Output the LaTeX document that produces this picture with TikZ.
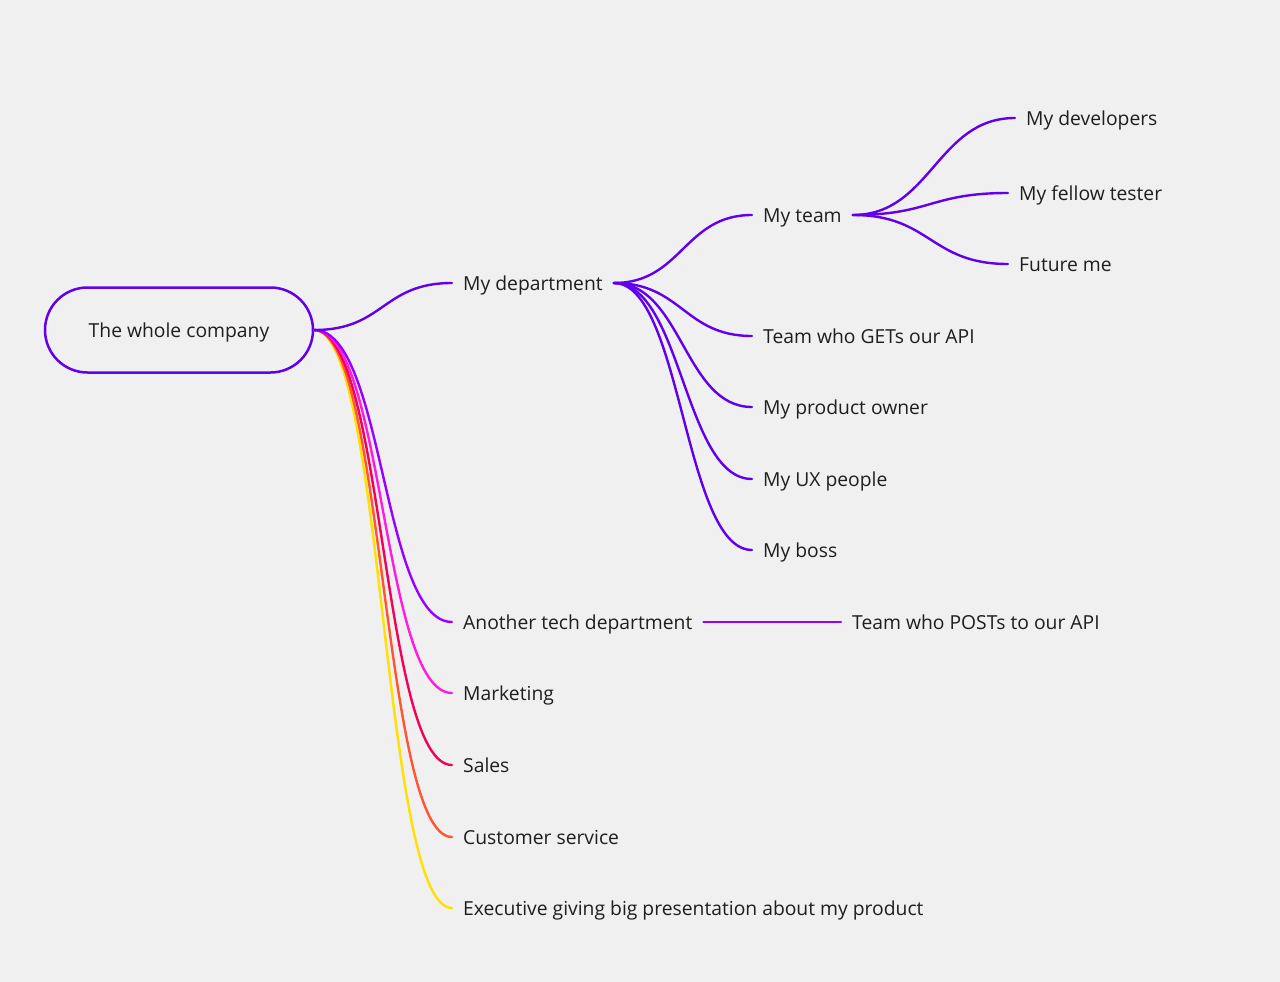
\documentclass[tikz,border=0pt]{standalone}
\usepackage{fontspec}
\setmainfont{Open Sans}
\definecolor{bg}{HTML}{F0F0F0}
\definecolor{vio}{HTML}{6200EE}
\definecolor{tech}{HTML}{9A00FF}
\definecolor{mkt}{HTML}{FF1CE0}
\definecolor{sales}{HTML}{F2005A}
\definecolor{cust}{HTML}{FF5533}
\definecolor{exec}{HTML}{FFE000}
\definecolor{txt}{HTML}{1E1E1E}
\tikzset{
  lbl/.style={anchor=west,inner xsep=11pt,inner ysep=0pt,text height=16pt,text depth=2pt,text=txt,font=\fontsize{19.3}{23}\selectfont},
  link/.style={line width=2.4pt,line cap=round},
}
\begin{document}
\begin{tikzpicture}[x=1pt,y=-1pt]
\useasboundingbox (0,0) rectangle (1280,982);
\fill[bg] (0,0) rectangle (1280,982);
% root
\node[draw=vio,line width=2.5pt,minimum width=268pt,minimum height=85pt,rounded corners=42.5pt,text=txt,text height=16pt,text depth=2pt,font=\fontsize{19.3}{23}\selectfont] (root) at (179,330) {The whole company};
% level 1
\node[lbl] (dept) at (452,283) {My department};
\node[lbl] (tech) at (452,622) {Another tech department};
\node[lbl] (mkt) at (452,693) {Marketing};
\node[lbl] (sales) at (452,765) {Sales};
\node[lbl] (cust) at (452,837) {Customer service};
\node[lbl] (exec) at (452,908) {Executive giving big presentation about my product};
% level 2
\node[lbl] (team) at (752,215) {My team};
\node[lbl] (gets) at (752,336) {Team who GETs our API};
\node[lbl] (po) at (752,407) {My product owner};
\node[lbl] (ux) at (752,479) {My UX people};
\node[lbl] (boss) at (752,550) {My boss};
\node[lbl] (posts) at (841,622) {Team who POSTs to our API};
% level 3
\node[lbl] (devs) at (1015,118) {My developers};
\node[lbl] (fellow) at (1008,193) {My fellow tester};
\node[lbl] (future) at (1008,264) {Future me};
% links from root
\draw[link,exec] (root.east) .. controls +(70,0) and +(-70,0) .. (exec.west);
\draw[link,cust] (root.east) .. controls +(70,0) and +(-70,0) .. (cust.west);
\draw[link,sales] (root.east) .. controls +(70,0) and +(-70,0) .. (sales.west);
\draw[link,mkt] (root.east) .. controls +(70,0) and +(-70,0) .. (mkt.west);
\draw[link,tech] (root.east) .. controls +(70,0) and +(-70,0) .. (tech.west);
\draw[link,vio] (root.east) .. controls +(70,0) and +(-70,0) .. (dept.west);
% department children
\foreach \c in {team,gets,po,ux,boss}
  \draw[link,vio] (dept.east) .. controls +(68,0) and +(-68,0) .. (\c.west);
% team children
\foreach \c in {devs,fellow,future}
  \draw[link,vio] (team.east) .. controls +(78,0) and +(-78,0) .. (\c.west);
% tech child
\draw[link,tech] (tech.east) -- (posts.west);
\end{tikzpicture}
\end{document}
